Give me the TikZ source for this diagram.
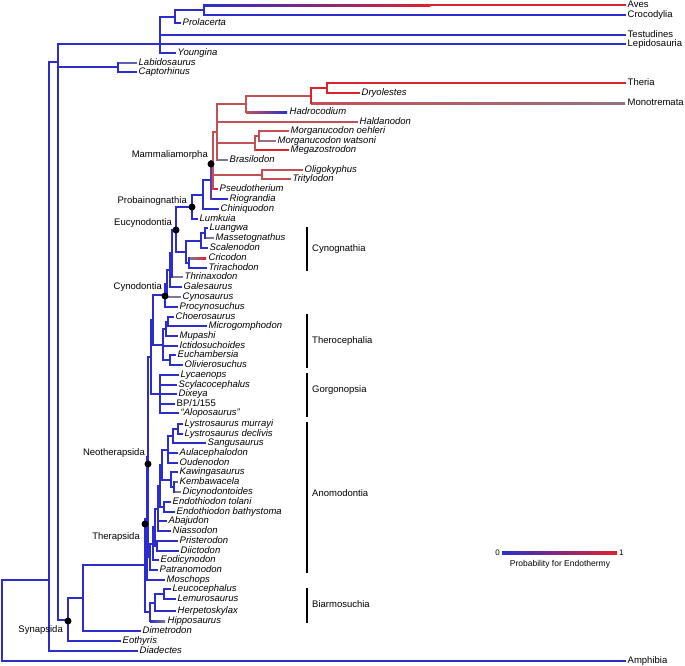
\documentclass[tikz,border=0pt]{standalone}
\usepackage{fontspec}
\setmainfont{Liberation Sans}
\usetikzlibrary{calc}
\definecolor{tb}{RGB}{45,45,205}
\definecolor{tr}{RGB}{222,35,45}
\definecolor{tm}{RGB}{195,80,85}
\definecolor{tg}{RGB}{125,120,150}
\definecolor{tgb}{RGB}{95,95,180}
\definecolor{tp}{RGB}{95,60,170}
\definecolor{tmg}{RGB}{150,115,125}
\newcommand\myfs{\fontsize{9.5pt}{11pt}\selectfont}
\tikzset{
  br/.style={line width=2pt, line cap=rect, color=tb},
  lf/.style={anchor=west, inner xsep=2.5pt, inner ysep=0pt, font=\myfs\itshape, text height=7pt, text depth=2pt},
  lfu/.style={font=\myfs},
  cl/.style={anchor=east, inner sep=0pt, font=\myfs},
  grp/.style={anchor=west, inner sep=0pt, font=\myfs},
  brk/.style={line width=1.4pt, draw=black},
  dotn/.style={circle, fill=black, inner sep=0pt, minimum size=7pt},
}
\newcommand\Lf[5][]{\node[lf,#1] (#2) at (#3,#4) {#5};}
\newcommand\In[3]{\coordinate (#1) at (#2,#3);}
\newcommand\Hz[3][]{\draw[br,#1] (#2 |- #3) -- (#3);}
\newcommand\Vt[4][]{\draw[br,#1] (#2 |- #3) -- (#2 |- #4);}
\newcommand\Sh[4]{\shade[left color=#3,right color=#4] ($(#1 |- #2)+(0,-1)$) rectangle ($(#2.west)+(0,1)$);}
\begin{document}
\begin{tikzpicture}[x=1pt,y=-1pt]
\fill[white] (0,0) rectangle (685,665);
\useasboundingbox (0,0) rectangle (685,665);

% ---------- leaves: sauropsids and outgroups
\Lf[lfu]{aves}{625}{5}{Aves}
\Lf[lfu]{croc}{625}{15}{Crocodylia}
\Lf{prol}{180}{23}{Prolacerta}
\Lf[lfu]{test}{625}{34.5}{Testudines}
\Lf[lfu]{lepi}{625}{44}{Lepidosauria}
\Lf{young}{175}{52.5}{Youngina}
\Lf{labi}{136}{62.5}{Labidosaurus}
\Lf{capt}{136}{72}{Captorhinus}
\Lf{dime}{140}{631}{Dimetrodon}
\Lf{eoth}{120}{641}{Eothyris}
\Lf{diad}{137}{651}{Diadectes}
\Lf[lfu]{amph}{625}{661}{Amphibia}

% ---------- mammaliaforms
\Lf[lfu]{theria}{625}{83}{Theria}
\Lf{dryo}{359}{93}{Dryolestes}
\Lf[lfu]{mono}{625}{103}{Monotremata}
\Lf{hadr}{287}{112}{Hadrocodium}
\Lf{hald}{357}{122}{Haldanodon}
\Lf{moeh}{288}{131}{Morganucodon oehleri}
\Lf{mwat}{275}{141}{Morganucodon watsoni}
\Lf{mega}{288}{150}{Megazostrodon}
\Lf{bras}{227}{160}{Brasilodon}
\Lf{olig}{302}{170}{Oligokyphus}
\Lf{trit}{290}{179}{Tritylodon}
\Lf{pseu}{217}{189}{Pseudotherium}
\Lf{riog}{227}{199}{Riograndia}
\Lf{chin}{218}{209}{Chiniquodon}
\Lf{lumk}{197}{219}{Lumkuia}

% ---------- cynodonts
\Lf{luan}{207}{228}{Luangwa}
\Lf{mass}{213}{238}{Massetognathus}
\Lf{scal}{207}{248}{Scalenodon}
\Lf{cric}{206}{258}{Cricodon}
\Lf{trir}{206}{268}{Trirachodon}
\Lf{thri}{182}{277}{Thrinaxodon}
\Lf{gale}{181}{287}{Galesaurus}
\Lf{cyns}{180}{297}{Cynosaurus}
\Lf{proc}{177}{307}{Procynosuchus}

% ---------- therocephalians
\Lf{choe}{173}{317}{Choerosaurus}
\Lf{micr}{206}{326}{Microgomphodon}
\Lf{mupa}{177}{336}{Mupashi}
\Lf{icti}{177}{346}{Ictidosuchoides}
\Lf{euca}{175}{355}{Euchambersia}
\Lf{oliv}{182}{365}{Olivierosuchus}

% ---------- gorgonopsians
\Lf{lyca}{178}{375}{Lycaenops}
\Lf{scyl}{176}{385}{Scylacocephalus}
\Lf{dixe}{176}{394}{Dixeya}
\Lf[lfu]{bpon}{174}{404}{BP/1/155}
\Lf{alop}{178}{413}{“Aloposaurus”}

% ---------- anomodonts
\Lf{lmur}{182}{424}{Lystrosaurus murrayi}
\Lf{ldec}{182}{434}{Lystrosaurus declivis}
\Lf{sang}{205}{443}{Sangusaurus}
\Lf{aula}{177}{453}{Aulacephalodon}
\Lf{oude}{177}{463}{Oudenodon}
\Lf{kawi}{177}{472}{Kawingasaurus}
\Lf{kemb}{177}{482}{Kembawacela}
\Lf{dicy}{180}{492}{Dicynodontoides}
\Lf{etol}{170}{502}{Endothiodon tolani}
\Lf{ebat}{174}{512}{Endothiodon bathystoma}
\Lf{abaj}{166}{521}{Abajudon}
\Lf{nias}{170}{531}{Niassodon}
\Lf{pris}{177}{541}{Pristerodon}
\Lf{diic}{178}{551}{Diictodon}
\Lf{eodi}{158}{560}{Eodicynodon}
\Lf{patr}{157}{570}{Patranomodon}
\Lf{mosc}{164}{580}{Moschops}
\Lf{leuc}{170}{589}{Leucocephalus}
\Lf{lemu}{175}{599}{Lemurosaurus}
\Lf{herp}{175}{611}{Herpetoskylax}
\Lf{hipp}{165}{621}{Hipposaurus}

% ---------- internal nodes
\In{arch}{204}{10}
\In{archtwo}{175}{16.5}
\In{saur}{160}{44}
\In{captn}{118}{67}
\In{amn}{58}{62}
\In{amntwo}{49}{580}
\In{root}{2}{620}
\In{syn}{68}{620}
\In{sph}{83}{598}
\In{ther}{145}{565}
\In{euth}{147}{518.5}
\In{neo}{148}{457}
\In{biar}{150}{612}
\In{btwo}{155}{602.5}
\In{bone}{164}{594}
\In{anom}{150}{557}
\In{dfive}{152.5}{543.5}
\In{dfour}{155}{527}
\In{pd}{157}{546}
\In{dthree}{158}{508.5}
\In{dtwo}{160}{486}
\In{endo}{164}{507}
\In{done}{162}{465}
\In{lthree}{168}{450}
\In{ltwo}{173}{436}
\In{lone}{178}{429}
\In{ktwo}{171}{479.5}
\In{kone}{174}{487}
\In{theriod}{151}{357}
\In{gorg}{160}{394}
\In{eutd}{153}{320}
\In{tthree}{163}{344.5}
\In{ttwo}{166}{329}
\In{tone}{168}{321.5}
\In{euch}{170}{360}
\In{cyno}{165}{295}
\In{cyn}{167}{283.5}
\In{gal}{170}{270}
\In{thr}{172}{253}
\In{eucy}{176}{229.5}
\In{cg}{186}{252}
\In{trav}{201}{240.5}
\In{travone}{205}{233}
\In{cone}{189}{263}
\In{prob}{192}{207}
\In{pbtwo}{203}{194.5}
\In{mam}{211}{180}
\In{stwo}{213}{160.5}
\In{sone}{217}{132}
\In{tryl}{262}{174.5}
\In{morb}{255}{143}
\In{mora}{259}{136}
\In{crown}{246}{104}
\In{mtwo}{311}{95.5}
\In{mone}{327}{88}
\coordinate (avesred) at (430,5);

% ---------- sauropsid branches
\shade[left color=tb,middle color=tg,right color=tr] ($(arch |- aves)+(0,-1)$) rectangle ($(avesred)+(0,1)$);
\draw[br,tr] (avesred) -- (aves);
\Hz{arch}{croc} \Vt{arch}{aves}{croc}
\Hz{archtwo}{arch} \Hz{archtwo}{prol} \Vt{archtwo}{arch}{prol}
\Hz{saur}{archtwo} \Hz{saur}{test} \Hz{saur}{young} \Vt{saur}{archtwo}{young}
\Hz{amn}{lepi}
\Hz[tgb]{captn}{labi} \Hz{captn}{capt} \Vt{captn}{labi}{capt}
\Hz{amn}{captn}
\Hz{amn}{syn} \Vt{amn}{lepi}{syn}
\Hz{amntwo}{amn} \Hz{amntwo}{diad} \Vt{amntwo}{amn}{diad}
\Hz{root}{amntwo} \Hz{root}{amph} \Vt{root}{amntwo}{amph}

% ---------- synapsid backbone
\Hz{syn}{sph} \Hz{syn}{eoth} \Vt{syn}{sph}{eoth}
\Hz{sph}{ther} \Hz{sph}{dime} \Vt{sph}{ther}{dime}
\Hz{ther}{euth} \Hz{ther}{biar} \Vt{ther}{euth}{biar}
\Hz{biar}{btwo} \Sh{biar}{hipp}{tb}{tg} \Vt{biar}{btwo}{hipp}
\Hz{btwo}{bone} \Hz{btwo}{herp} \Vt{btwo}{bone}{herp}
\Hz{bone}{leuc} \Hz{bone}{lemu} \Vt{bone}{leuc}{lemu}
\Hz{euth}{neo} \Hz{euth}{mosc} \Vt{euth}{neo}{mosc}
\Hz{neo}{theriod} \Hz{neo}{anom} \Vt{neo}{theriod}{anom}

% ---------- anomodont branches
\Hz{anom}{dfive} \Hz{anom}{patr} \Vt{anom}{dfive}{patr}
\Hz{dfive}{dfour} \Hz{dfive}{eodi} \Vt{dfive}{dfour}{eodi}
\Hz{dfour}{dthree} \Hz{dfour}{pd} \Vt{dfour}{dthree}{pd}
\Hz{pd}{pris} \Hz{pd}{diic} \Vt{pd}{pris}{diic}
\Hz{dthree}{dtwo} \Hz{dthree}{abaj} \Hz{dthree}{nias} \Vt{dthree}{dtwo}{nias}
\Hz{dtwo}{done} \Hz{dtwo}{endo} \Vt{dtwo}{done}{endo}
\Hz{endo}{etol} \Hz{endo}{ebat} \Vt{endo}{etol}{ebat}
\Hz{done}{lthree} \Hz{done}{ktwo} \Vt{done}{lthree}{ktwo}
\Hz{lthree}{ltwo} \Hz{lthree}{aula} \Hz{lthree}{oude} \Vt{lthree}{ltwo}{oude}
\Hz{ltwo}{lone} \Hz{ltwo}{sang} \Vt{ltwo}{lone}{sang}
\Hz{lone}{lmur} \Hz{lone}{ldec} \Vt{lone}{lmur}{ldec}
\Hz{ktwo}{kawi} \Hz{ktwo}{kone} \Vt{ktwo}{kawi}{kone}
\Hz[tgb]{kone}{kemb} \Hz[tg]{kone}{dicy} \Vt{kone}{kemb}{dicy}

% ---------- theriodont branches
\Hz{theriod}{eutd} \Hz{theriod}{gorg} \Vt{theriod}{eutd}{gorg}
\Hz{gorg}{lyca} \Hz{gorg}{scyl} \Hz{gorg}{dixe} \Hz{gorg}{bpon} \Hz{gorg}{alop} \Vt{gorg}{lyca}{alop}
\Hz{eutd}{cyno} \Hz{eutd}{tthree} \Vt{eutd}{cyno}{tthree}
\Hz{tthree}{ttwo} \Hz{tthree}{icti} \Hz{tthree}{euch} \Vt{tthree}{ttwo}{euch}
\Hz{ttwo}{tone} \Hz{ttwo}{mupa} \Vt{ttwo}{tone}{mupa}
\Hz{tone}{choe} \Hz{tone}{micr} \Vt{tone}{choe}{micr}
\Hz{euch}{euca} \Hz{euch}{oliv} \Vt{euch}{euca}{oliv}

% ---------- cynodont branches
\Hz{cyno}{cyn} \Hz{cyno}{proc} \Vt{cyno}{cyn}{proc}
\Hz{cyn}{gal} \Hz[tg]{cyn}{cyns} \Vt{cyn}{gal}{cyns}
\Hz{gal}{thr} \Hz{gal}{gale} \Vt{gal}{thr}{gale}
\Hz{thr}{eucy} \Hz[tg]{thr}{thri} \Vt{thr}{eucy}{thri}
\Hz{eucy}{prob} \Hz{eucy}{cg} \Vt{eucy}{prob}{cg}
\Hz{cg}{trav} \Hz{cg}{cone} \Vt{cg}{trav}{cone}
\Hz{trav}{travone} \Hz{trav}{scal} \Vt{trav}{travone}{scal}
\Hz{travone}{luan} \Hz[tg]{travone}{mass} \Vt{travone}{luan}{mass}
\Sh{cone}{cric}{tg}{tr} \Hz{cone}{trir} \Vt{cone}{cric}{trir}
\Hz{prob}{pbtwo} \Hz{prob}{lumk} \Vt{prob}{pbtwo}{lumk}
\Hz{pbtwo}{mam} \Hz{pbtwo}{chin} \Vt{pbtwo}{mam}{chin}

% ---------- mammaliamorph branches
\Hz[tm]{mam}{stwo} \Hz{mam}{riog} \Vt[tp]{mam}{stwo}{riog}
\Hz[tm]{stwo}{sone} \Hz[tm]{stwo}{tryl} \Hz[tr]{stwo}{pseu} \Vt[tm]{stwo}{sone}{pseu}
\Hz[tm]{tryl}{olig} \Hz[tm]{tryl}{trit} \Vt[tm]{tryl}{olig}{trit}
\Hz[tm]{sone}{crown} \Hz[tm]{sone}{hald} \Hz[tm]{sone}{morb} \Hz[tg]{sone}{bras} \Vt[tm]{sone}{crown}{bras}
\Hz[tm]{morb}{mora} \Hz[tr]{morb}{mega} \Vt[tm]{morb}{mora}{mega}
\Hz[tm]{mora}{moeh} \Hz[tmg]{mora}{mwat} \Vt[tm]{mora}{moeh}{mwat}
\Hz[tm]{crown}{mtwo} \Sh{crown}{hadr}{tm}{tb} \Vt[tm]{crown}{mtwo}{hadr}
\Hz[tr]{mtwo}{mone} \Sh{mtwo}{mono}{tm}{tmg} \Vt[tr]{mtwo}{mone}{mono}
\Hz[tr]{mone}{theria} \Hz[tr]{mone}{dryo} \Vt[tr]{mone}{theria}{dryo}

% ---------- node dots
\node[dotn] (dmam) at (211,164) {};
\node[dotn] (dprob) at (192,207) {};
\node[dotn] (deucy) at (176,230) {};
\node[dotn] (dcyno) at (165,296) {};
\node[dotn] (dneo) at (148,464) {};
\node[dotn] (dther) at (145,524) {};
\node[dotn] (dsyn) at (68,621) {};

% ---------- clade labels
\node[cl] (labmam) at (208,155) {Mammaliamorpha};
\node[cl] (labprob) at (187,201) {Probainognathia};
\node[cl] (labeucy) at (172,223) {Eucynodontia};
\node[cl] (labcyno) at (162,287) {Cynodontia};
\node[cl] (labneo) at (145,453) {Neotherapsida};
\node[cl] (labther) at (140,537) {Therapsida};
\node[cl] (labsyn) at (63,630) {Synapsida};

% ---------- group brackets
\draw[brk] (307,227) -- (307,271);
\node[grp] (gcyn) at (312,249) {Cynognathia};
\draw[brk] (307,314) -- (307,368);
\node[grp] (gthe) at (312,341) {Therocephalia};
\draw[brk] (307,373) -- (307,417);
\node[grp] (ggor) at (312,390) {Gorgonopsia};
\draw[brk] (307,422) -- (307,573);
\node[grp] (gano) at (312,493) {Anomodontia};
\draw[brk] (307,588) -- (307,623);
\node[grp] (gbia) at (312,604) {Biarmosuchia};

% ---------- legend
\shade[left color=tb, middle color=tg, right color=tr] (502,551.5) rectangle (617,554.5);
\node[anchor=east, inner sep=1pt, font=\fontsize{8pt}{9pt}\selectfont] (lzero) at (501,553) {0};
\node[anchor=west, inner sep=1pt, font=\fontsize{8pt}{9pt}\selectfont] (lone1) at (618,553) {1};
\node[inner sep=0pt, font=\fontsize{8.5pt}{10pt}\selectfont] (ltitle) at (560,564) {Probability for Endothermy};
\end{tikzpicture}
\end{document}
